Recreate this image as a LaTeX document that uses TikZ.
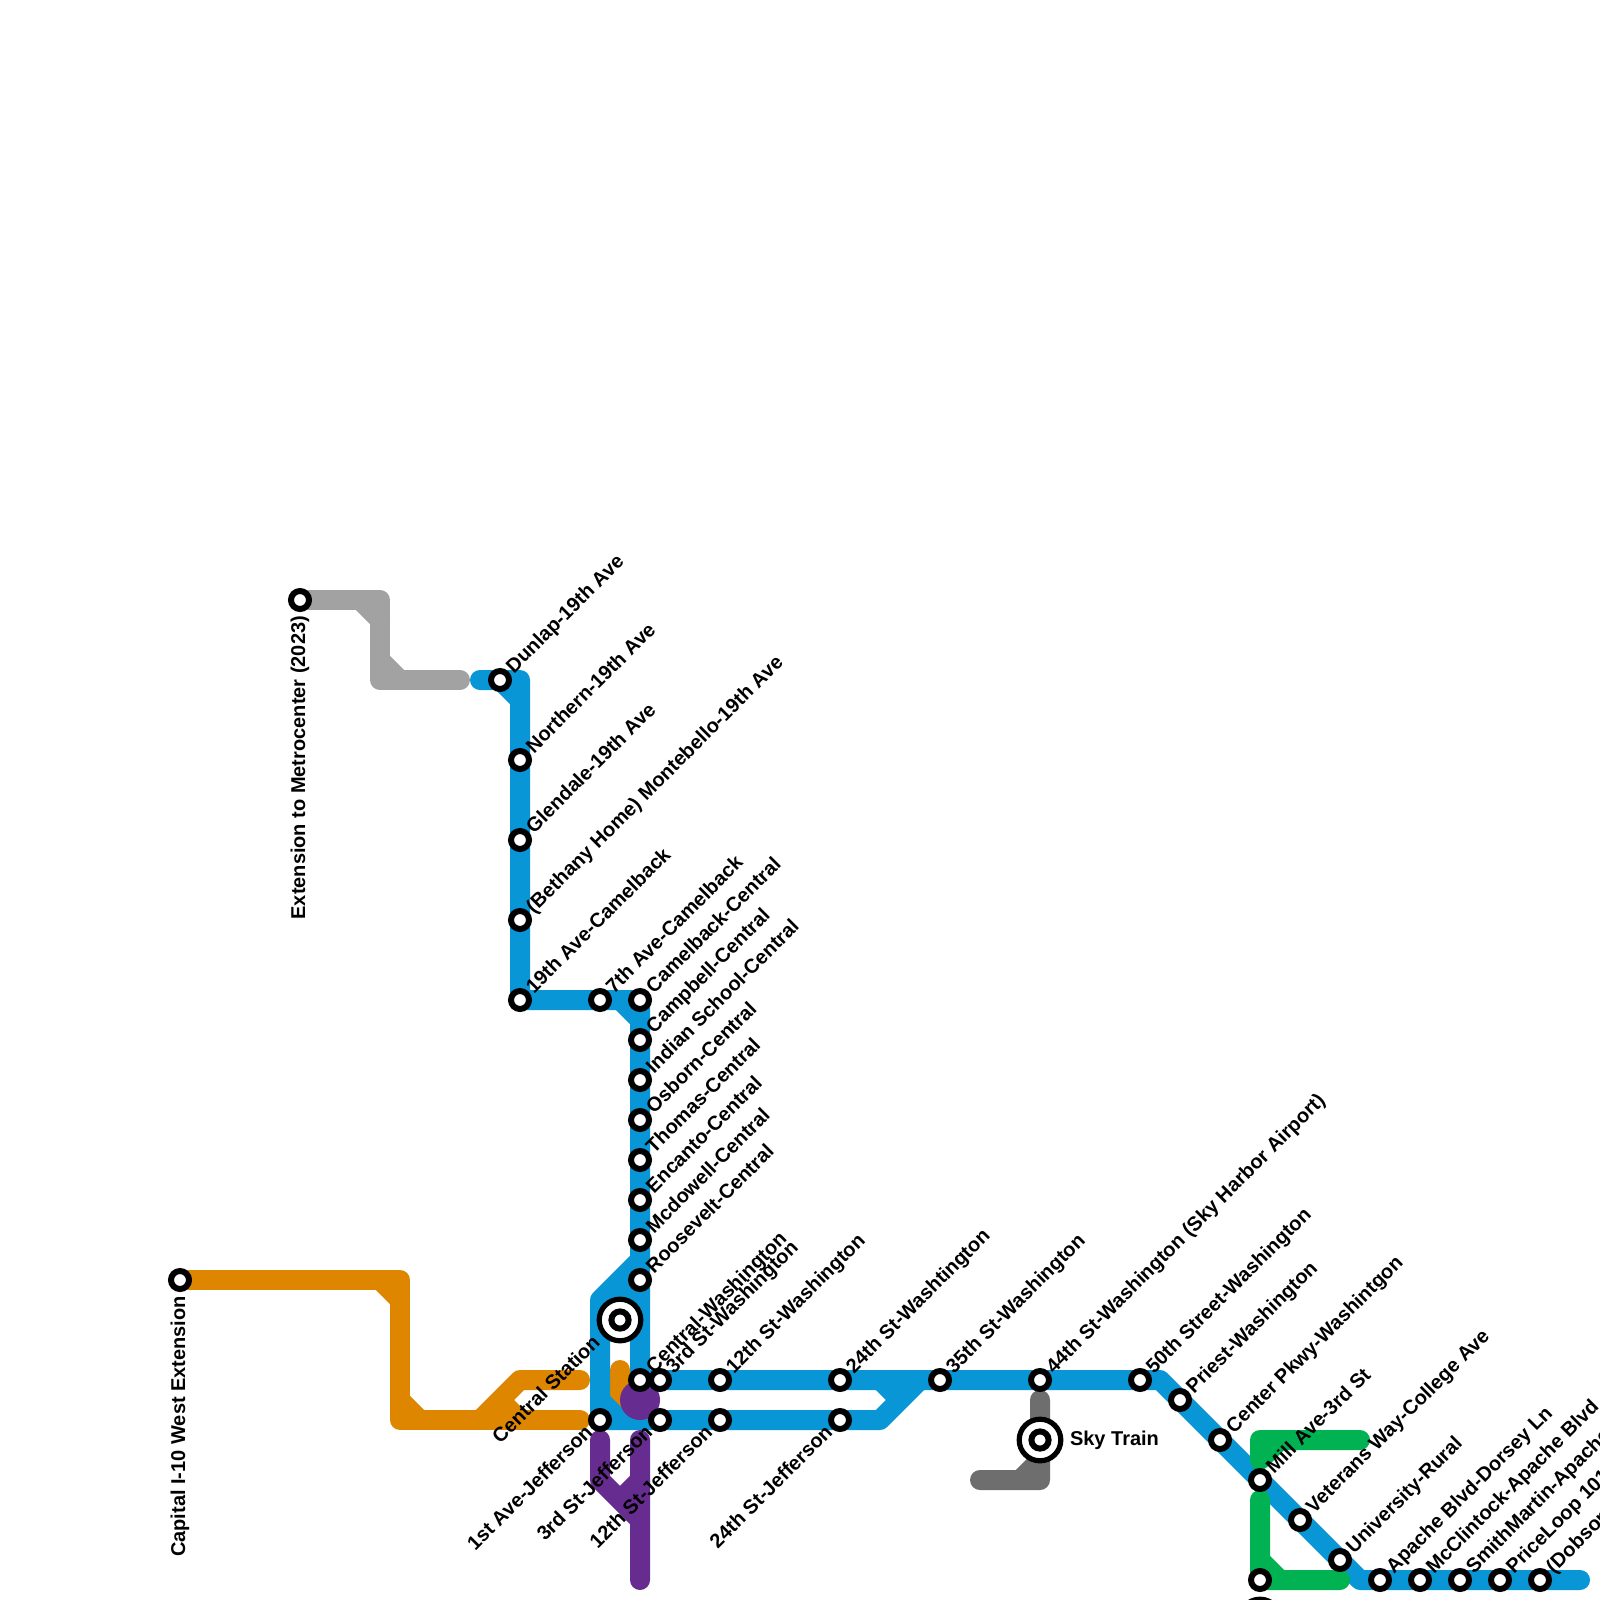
\documentclass[tikz,border=0pt]{standalone}
\usepackage{fontspec}
\setmainfont{Liberation Sans}
\usetikzlibrary{calc}
\definecolor{mblue}{HTML}{0896D7}
\definecolor{morange}{HTML}{DF8600}
\definecolor{mgreen}{HTML}{00B251}
\definecolor{mpurple}{HTML}{662C90}
\definecolor{msilver}{HTML}{A2A2A2}
\definecolor{mgrey}{HTML}{6E6E6E}
\tikzset{
  x=0.5pt,y=-0.5pt,
  metro/.style={line width=10pt,line cap=round,line join=round},
  stn/.style={circle,draw=black,fill=white,line width=3pt,minimum size=9pt,inner sep=0pt,outer sep=0pt},
  hubo/.style={circle,draw=black,fill=white,line width=2.6pt,minimum size=20.8pt,inner sep=0pt,outer sep=0pt},
  hubi/.style={circle,draw=black,fill=white,line width=3pt,minimum size=8.6pt,inner sep=0pt,outer sep=0pt},
  lab/.style={font=\bfseries\fontsize{10}{12}\selectfont,text=black,inner sep=0pt,outer sep=0pt},
  labne/.style={lab,rotate=45,anchor=base west},
  labsw/.style={lab,rotate=45,anchor=base east},
  labup/.style={lab,rotate=90,anchor=base east},
}
\newcommand{\lne}[2]{\node[labne] (l#1) at ($(#1)+(14,-6)$) {#2};}
\newcommand{\lsw}[2]{\node[labsw] (l#1) at ($(#1)+(-6.5,13.5)$) {#2};}
\begin{document}
\begin{tikzpicture}
\useasboundingbox (0,0) rectangle (1600,1600);
\clip (0,0) rectangle (1600,1600);
\fill[white] (0,0) rectangle (1600,1600);
% station positions
\coordinate (metro) at (300,600);
\coordinate (dunlap) at (500,680);
\coordinate (northern) at (520,760);
\coordinate (glendale) at (520,840);
\coordinate (bethany) at (520,920);
\coordinate (camel) at (520,1000);
\coordinate (seventh) at (600,1000);
\coordinate (camc) at (640,1000);
\coordinate (campbell) at (640,1040);
\coordinate (indian) at (640,1080);
\coordinate (osborn) at (640,1120);
\coordinate (thomas) at (640,1160);
\coordinate (encanto) at (640,1200);
\coordinate (mcdowell) at (640,1240);
\coordinate (roosevelt) at (640,1280);
\coordinate (central) at (620,1320);
\coordinate (cwash) at (640,1380);
\coordinate (tsw) at (660,1380);
\coordinate (twelvew) at (720,1380);
\coordinate (twfourw) at (840,1380);
\coordinate (thfive) at (940,1380);
\coordinate (ffour) at (1040,1380);
\coordinate (fifty) at (1140,1380);
\coordinate (priest) at (1180,1400);
\coordinate (center) at (1220,1440);
\coordinate (mill) at (1260,1480);
\coordinate (veterans) at (1300,1520);
\coordinate (university) at (1340,1560);
\coordinate (apache) at (1380,1580);
\coordinate (mcclintock) at (1420,1580);
\coordinate (smith) at (1460,1580);
\coordinate (price) at (1500,1580);
\coordinate (dobson) at (1540,1580);
\coordinate (firstj) at (600,1420);
\coordinate (thirdj) at (660,1420);
\coordinate (twelvej) at (720,1420);
\coordinate (twfourj) at (840,1420);
\coordinate (sky) at (1040,1440);
\coordinate (capital) at (180,1280);
\coordinate (greenb) at (1260,1580);
\coordinate (greenc) at (1260,1620);
% silver
\draw[metro,msilver] (metro) -- (380,600) -- (380,680) -- (460,680);
\draw[metro,msilver] (360,600) -- (380,620) (380,660) -- (400,680);
% orange
\draw[metro,morange] (capital) -- (400,1280) -- (400,1420) -- (580,1420);
\draw[metro,morange] (380,1280) -- (400,1300) (400,1400) -- (420,1420);
\draw[metro,morange] (480,1420) -- (520,1380) -- (580,1380) (500,1400) -- (520,1420);
\draw[metro,morange] (620,1370) -- (620,1400);
% blue
\draw[metro,mblue] (480,680) -- (520,680) -- (camel) -- (camc) -- (cwash) -- (fifty) -- (1160,1380) -- (1360,1580) -- (1580,1580);
\draw[metro,mblue] (dunlap) -- (520,700) (620,1000) -- (640,1020);
\draw[metro,mblue] (640,1260) -- (600,1300) -- (firstj) -- (880,1420) -- (920,1380) (880,1380) -- (900,1400) (600,1400) -- (620,1420);
\draw[metro,mblue,line cap=butt] (640,1280) -- (620,1300);
% grey
\draw[metro,mgrey] (1040,1400) -- (1040,1480) -- (980,1480) (1020,1480) -- (1040,1460);
% green
\draw[metro,mgreen] (1260,1460) -- (1260,1440) -- (1360,1440) (1260,1460) -- (1280,1440);
\draw[metro,mgreen] (1260,1500) -- (greenb) -- (1340,1580) (1260,1560) -- (1280,1580);
% purple
\draw[metro,mpurple] (600,1440) -- (600,1480) -- (640,1520) -- (640,1580) (640,1440) -- (640,1520) (640,1480) -- (620,1500);
\fill[mpurple] (640,1400) circle (10pt);
% stations
\foreach \c in {metro,dunlap,northern,glendale,bethany,camel,seventh,camc,campbell,indian,osborn,thomas,encanto,mcdowell,roosevelt,cwash,tsw,twelvew,twfourw,thfive,ffour,fifty,priest,center,mill,veterans,university,apache,mcclintock,smith,price,dobson,firstj,thirdj,twelvej,twfourj,capital,greenb}
  {\node[stn] (n\c) at (\c) {};}
\foreach \c in {central,sky,greenc}{\node[hubo] (h\c) at (\c) {}; \node[hubi] (i\c) at (\c) {};}
% labels
\lne{dunlap}{Dunlap-19th Ave}
\lne{northern}{Northern-19th Ave}
\lne{glendale}{Glendale-19th Ave}
\lne{bethany}{(Bethany Home) Montebello-19th Ave}
\lne{camel}{19th Ave-Camelback}
\lne{seventh}{7th Ave-Camelback}
\lne{camc}{Camelback-Central}
\lne{campbell}{Campbell-Central}
\lne{indian}{Indian School-Central}
\lne{osborn}{Osborn-Central}
\lne{thomas}{Thomas-Central}
\lne{encanto}{Encanto-Central}
\lne{mcdowell}{Mcdowell-Central}
\lne{roosevelt}{Roosevelt-Central}
\lne{cwash}{Central-Washington}
\lne{tsw}{3rd St-Washington}
\lne{twelvew}{12th St-Washington}
\lne{twfourw}{24th St-Washtington}
\lne{thfive}{35th St-Washington}
\lne{ffour}{44th St-Washington (Sky Harbor Airport)}
\lne{fifty}{50th Street-Washington}
\lne{priest}{Priest-Washington}
\lne{center}{Center Pkwy-Washintgon}
\lne{mill}{Mill Ave-3rd St}
\lne{veterans}{Veterans Way-College Ave}
\lne{university}{University-Rural}
\lne{apache}{Apache Blvd-Dorsey Ln}
\lne{mcclintock}{McClintock-Apache Blvd}
\lne{smith}{SmithMartin-Apache}
\lne{price}{PriceLoop 101}
\lne{dobson}{(Dobson}
\lsw{firstj}{1st Ave-Jefferson}
\lsw{thirdj}{3rd St-Jefferson}
\lsw{twelvej}{12th St-Jefferson}
\lsw{twfourj}{24th St-Jefferson}
\node[labsw] (lcentral) at ($(central)+(-19,24)$) {Central Station};
\node[labup] (lcapital) at ($(capital)+(5,16)$) {Capital I-10 West Extension};
\node[labup] (lmetro) at ($(metro)+(5,16)$) {Extension to Metrocenter (2023)};
\node[lab,anchor=base west] (lsky) at ($(sky)+(30,5)$) {Sky Train};
\end{tikzpicture}
\end{document}
